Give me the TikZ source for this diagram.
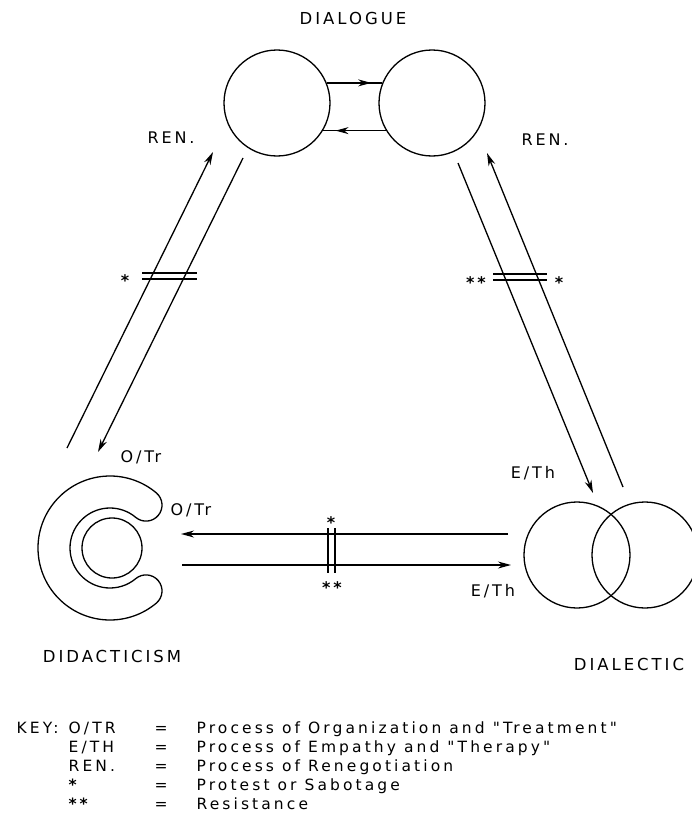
\documentclass[tikz,border=0pt]{standalone}
\usepackage{fontspec}
\setmainfont{DejaVu Sans}[LetterSpace=18,Ligatures=TeXOff]
\usetikzlibrary{arrows.meta,decorations.markings}
\begin{document}
\begin{tikzpicture}[x=1pt,y=-1pt,line width=1.3pt,
  tip/.style={-{Stealth[length=13pt,width=7pt]}},
  midtip/.style={postaction={decorate},decoration={markings,mark=at position #1 with {\arrow{Stealth[length=13pt,width=7pt]}}}},
  lbl/.style={font=\fontsize{16}{18}\selectfont,inner sep=0pt},
  star/.style={font=\fontsize{16}{18}\selectfont\bfseries,inner sep=0pt},
  ttl/.style={font=\fontsize{16.5}{18}\selectfont,inner sep=0pt},
  keytxt/.style={font=\fontsize{15.5}{18}\selectfont\addfontfeature{LetterSpace=20},inner sep=0pt,anchor=base west},
  keystar/.style={font=\fontsize{15.5}{18}\selectfont\bfseries,inner sep=0pt,anchor=west},
  ring/.style={draw,circle,minimum size=106pt,inner sep=0pt},
  bar/.style={line width=1.2pt}]
\useasboundingbox (0,0) rectangle (691,816);
% dialogue
\node[ring] (dl) at (277,103) {};
\node[ring] (dr) at (432,103) {};
\draw[midtip=0.8] (dl.22) -- (dr.158);
\draw[midtip=0.8] (dr.-149) -- (dl.-31);
\node[ttl] (tdialogue) at (353,18) {DIALOGUE};
\node[lbl] (renl) at (171,138) {REN.};
\node[lbl] (renr) at (545,140) {REN.};
% left diagonals
\coordinate (a1) at (67,448); \coordinate (a2) at (213,152);
\coordinate (b1) at (243,158); \coordinate (b2) at (98,452);
\draw[tip] (a1) -- (a2);
\draw[tip] (b1) -- (b2);
\draw[bar] (142,273) -- (197,273);
\draw[bar] (142,279) -- (197,279);
\node[star] (s1) at (125,281) {*};
% right diagonals
\coordinate (c1) at (458,163); \coordinate (c2) at (593,493);
\coordinate (d1) at (623,487); \coordinate (d2) at (487,153);
\draw[tip] (c1) -- (c2);
\draw[tip] (d1) -- (d2);
\draw[bar] (493,274) -- (547,274);
\draw[bar] (493,280) -- (547,280);
\node[star] (s2) at (476,283) {**};
\node[star] (s3) at (559,283) {*};
% didacticism
\begin{scope}[shift={(110,548)}]
\draw (-50:72) arc[start angle=-50,end angle=-310,radius=72]
  arc[start angle=50,end angle=-130,radius=16]
  arc[start angle=-310,end angle=-50,radius=40]
  arc[start angle=130,end angle=-50,radius=16] -- cycle;
\end{scope}
\node[draw,circle,minimum size=60pt,inner sep=0pt] (ic) at (112,548) {};
\node[lbl] (ot1) at (141,457) {O/Tr};
\node[lbl] (ot2) at (191,510) {O/Tr};
% dialectic
\node[ring] (xl) at (577,555) {};
\node[ring] (xr) at (645,555) {};
\node[lbl] (et1) at (533,473) {E/Th};
\node[lbl] (et2) at (493,591) {E/Th};
% horizontal arrows
\coordinate (e1) at (508,534); \coordinate (e2) at (181,534);
\coordinate (f1) at (182,565); \coordinate (f2) at (511,565);
\draw[tip] (e1) -- (e2);
\draw[tip] (f1) -- (f2);
\draw[bar] (328,528) -- (328,573);
\draw[bar] (335,528) -- (335,573);
\node[star] (s4) at (331,523) {*};
\node[star] (s5) at (332,588) {**};
% titles
\node[ttl] (tdid) at (112,656) {DIDACTICISM};
\node[ttl] (tdia) at (629,664) {DIALECTIC};
% key
\begin{scope}[every node/.style={keytxt}]
\node (k0) at (16,733) {KEY:};
\node (k1a) at (68,733) {O/TR};
\node (k1b) at (154,733) {=};
\node (k1c) at (196,733) {Process of Organization and "Treatment"};
\node (k2a) at (68,752) {E/TH};
\node (k2b) at (154,752) {=};
\node (k2c) at (196,752) {Process of Empathy and "Therapy"};
\node (k3a) at (68,771) {REN.};
\node (k3b) at (154,771) {=};
\node (k3c) at (196,771) {Process of Renegotiation};
\node[keystar] (k4a) at (68,785) {*};
\node (k4b) at (154,790) {=};
\node (k4c) at (196,790) {Protest or Sabotage};
\node[keystar] (k5a) at (68,804) {**};
\node (k5b) at (154,809) {=};
\node (k5c) at (196,809) {Resistance};
\end{scope}
\end{tikzpicture}
\end{document}
